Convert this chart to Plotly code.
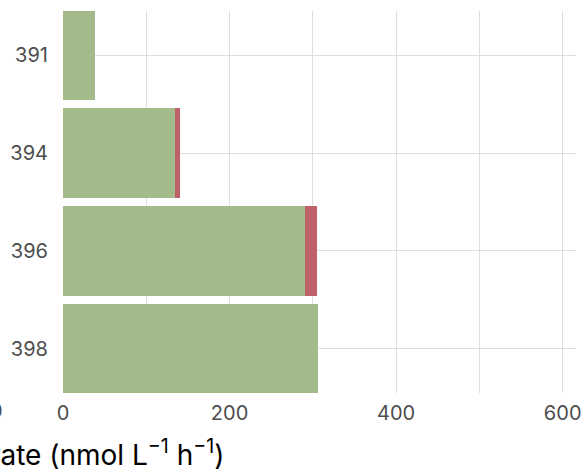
import plotly.graph_objects as go

categories = ["391", "394", "396", "398"]
green_vals = [38, 134, 291, 306]
red_vals = [0, 7, 14, 0]
x_ticks = [0, 200, 400, 600]

GREEN = "#a3bb8a"
RED = "#bf616a"
GRID = "#dedede"
FONT = "Inter"

fig = go.Figure()
fig.add_trace(go.Bar(y=categories, x=green_vals, orientation="h",
                     marker=dict(color=GREEN, line=dict(width=0)), name="a"))
fig.add_trace(go.Bar(y=categories, x=red_vals, orientation="h",
                     marker=dict(color=RED, line=dict(width=0)), name="b"))

W, H = 584, 472
L, R, T, B = 63, 8, 10.5, 79
pw = W - L - R
ph = H - T - B

fig.update_layout(
    width=W, height=H,
    margin=dict(l=L, r=R, t=T, b=B, pad=0, autoexpand=False),
    barmode="stack", bargap=0.09,
    showlegend=False,
    plot_bgcolor="white", paper_bgcolor="white",
    font=dict(family=FONT, color="#4d4d4d"),
    xaxis=dict(range=[0, 616], tickvals=x_ticks, ticktext=[str(v) for v in x_ticks],
               automargin=False,
               showgrid=True, gridcolor=GRID, gridwidth=1.2,
               minor=dict(dtick=100, tick0=0, showgrid=True, gridcolor=GRID, gridwidth=1.2),
               zeroline=False, showline=False,
               ticks="outside", ticklen=2, tickcolor="rgba(0,0,0,0)",
               tickfont=dict(size=20, color="#4d4d4d", family=FONT)),
    yaxis=dict(categoryorder="array", categoryarray=categories[::-1],
               range=[-0.45, 3.45], automargin=False,
               showgrid=True, gridcolor=GRID, gridwidth=1.2,
               zeroline=False, showline=False,
               ticks="outside", ticklen=10, tickcolor="rgba(0,0,0,0)",
               tickfont=dict(size=20, color="#4d4d4d", family=FONT)),
    annotations=[
        dict(text="600", xref="paper", yref="paper",
             x=(5 - L) / pw, y=-(411 - (T + ph)) / ph,
             xanchor="right", yanchor="middle", showarrow=False,
             font=dict(size=20, color="#4d4d4d", family=FONT)),
        dict(text="Uptake rate (nmol L<sup>−1</sup> h<sup>−1</sup>)", xref="paper", yref="paper",
             x=(226 - L) / pw, y=-(453 - (T + ph)) / ph,
             xanchor="right", yanchor="middle", showarrow=False,
             font=dict(size=28, color="black", family=FONT)),
    ],
)

fig.write_html("out.html", config={"displayModeBar": False},
               post_script="document.body.style.margin='0px';document.body.style.padding='0px';")
